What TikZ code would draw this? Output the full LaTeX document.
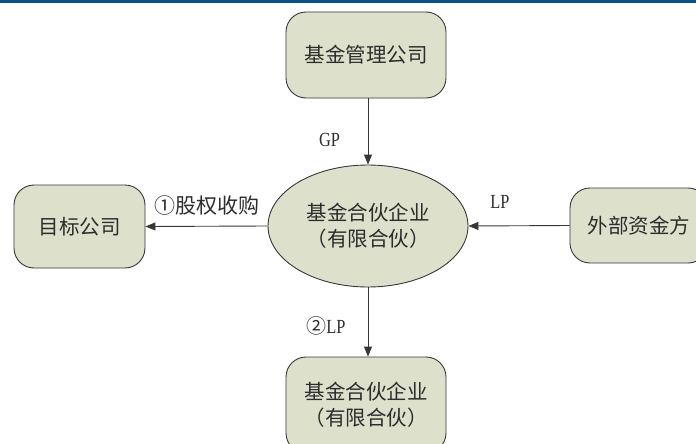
\documentclass[tikz,border=0pt]{standalone}
\usepackage{fontspec}
\setmainfont{Liberation Serif}
\newfontfamily\cjk{Noto Sans CJK SC}
\usetikzlibrary{shapes.geometric,arrows.meta}
\definecolor{boxfill}{RGB}{221,224,203}
\definecolor{edge}{RGB}{55,55,55}
\definecolor{topbar}{RGB}{10,80,135}
\definecolor{txt}{RGB}{45,45,45}
\newcommand{\narrow}[1]{\scalebox{0.82}[1]{#1}}
\tikzset{
  box/.style={draw=edge, line width=0.9pt, fill=boxfill, rounded corners=20pt, inner sep=0pt, text=txt, font=\cjk\fontsize{20.5}{26}\selectfont, align=center},
  oval/.style={draw=edge, line width=0.9pt, fill=boxfill, ellipse, inner sep=0pt, text=txt, font=\cjk\fontsize{20.5}{26}\selectfont, align=center},
  conn/.style={draw=edge, line width=0.9pt, -{Triangle[length=10pt,width=8pt]}},
  lbl/.style={text=txt, font=\fontsize{20}{22}\selectfont, inner sep=0pt}
}
\begin{document}
\begin{tikzpicture}[x=1pt,y=-1pt]
\useasboundingbox (0,0) rectangle (696,444);
\fill[topbar] (0,0) rectangle (696,3.5);
\node[box, minimum width=160pt, minimum height=86pt] (mgr) at (366,55) {基金管理公司};
\node[oval, minimum width=200pt, minimum height=122pt] (fund) at (368,226) {基金合伙企业\\（有限合伙）};
\node[box, minimum width=131pt, minimum height=83pt] (tgt) at (79.5,226.5) {目标公司};
\node[box, minimum width=138pt, minimum height=75pt] (ext) at (639,225.5) {外部资金方};
\node[box, minimum width=160pt, minimum height=96pt] (sub) at (366,405) {基金合伙企业\\（有限合伙）};
\draw[conn] (mgr.south -| fund.north) -- (fund.north);
\draw[conn] (fund.west) -- (tgt.east);
\draw[conn] (ext.west) -- (fund.east);
\draw[conn] (fund.south) -- (sub.north -| fund.south);
\node[lbl] (gp) at (329.5,140) {\narrow{GP}};
\node[lbl] (l1) at (206.5,206) {{\cjk\fontsize{21}{22}\selectfont ①股权收购}};
\node[lbl] (lp) at (500,201.5) {\narrow{LP}};
\node[lbl] (l2) at (326,326) {{\cjk\fontsize{20}{22}\selectfont ②}\narrow{LP}};
\end{tikzpicture}
\end{document}
